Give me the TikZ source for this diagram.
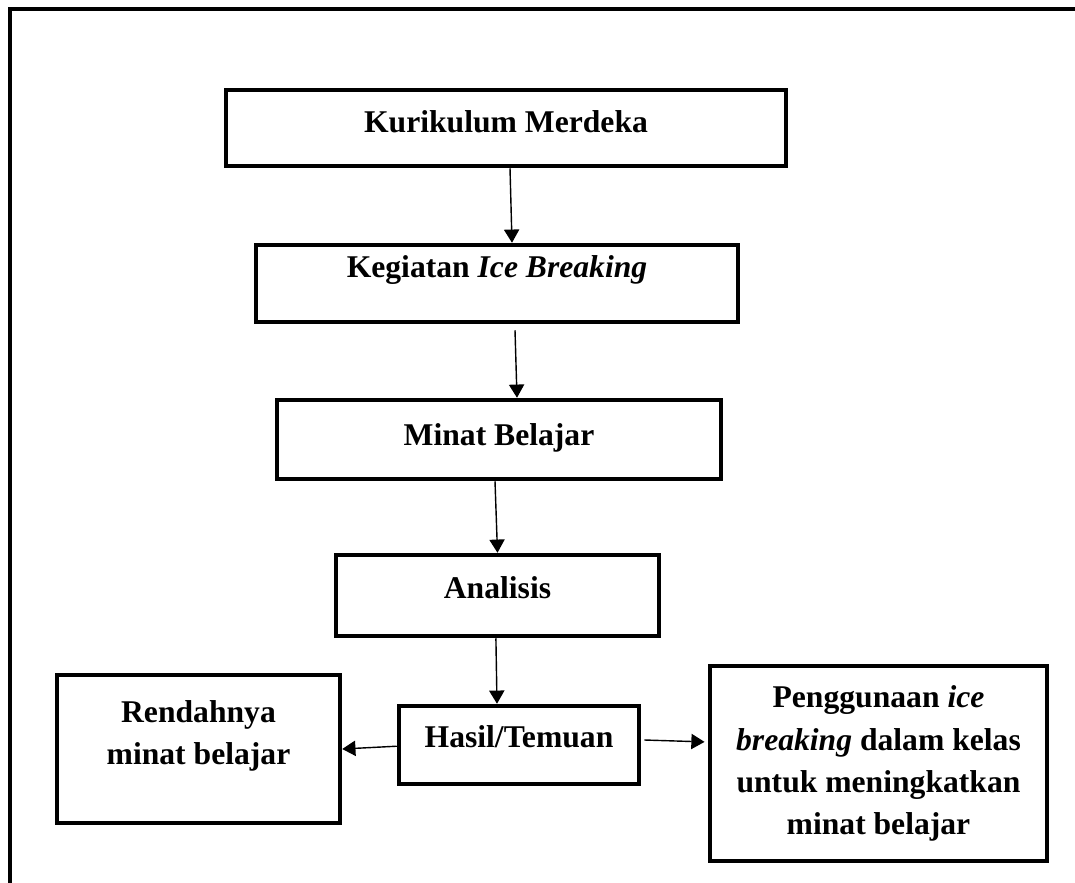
\documentclass[tikz,border=0pt]{standalone}
\usepackage{fontspec}
\setmainfont{Liberation Serif}
\usetikzlibrary{arrows.meta,positioning}

\begin{document}
\begin{tikzpicture}[
    box/.style={rectangle,draw,line width=3.2pt,align=center,inner sep=0pt},
    oneline/.style={text height=0.5cm,text depth=#1},
    link/.style={->,line width=1pt},
    >={Triangle[length=0.33cm,width=0.38cm]},
    font=\fontsize{22.5}{30}\selectfont\bfseries
    ]

    \clip (0,0) rectangle (26.875,-22.05);

    % frame:
    \draw[line width=3.5pt] (28,-0.225) -- (0.25,-0.225) -- (0.25,-23);

    % main flow:
    \node(kurikulum) at (12.65,-3.2) [box,oneline=0.3cm,minimum width=14cm,minimum height=1.9cm] {Kurikulum Merdeka};
    \node(kegiatan) at (12.425,-7.0875) [box,oneline=0.8cm,minimum width=12.05cm,minimum height=1.925cm] {Kegiatan \textit{Ice Breaking}};
    \node(minat) at (12.475,-10.9875) [box,oneline=0.2cm,minimum width=11.1cm,minimum height=1.975cm] {Minat Belajar};
    \node(analisis) at (12.4375,-14.8875) [box,oneline=0.375cm,minimum width=8.075cm,minimum height=2.025cm] {Analisis};
    \node(hasil) at (12.975,-18.625) [box,oneline=0.4cm,minimum width=6cm,minimum height=1.95cm] {Hasil/Temuan};

    % results:
    \node(rendah) at (4.9625,-18.725) [box,minimum width=7.075cm,minimum height=3.7cm] {Rendahnya\\minat belajar\\[-0.25cm]\mbox{}};
    \node(guna) at (21.9625,-19.0875) [box,minimum width=8.425cm,minimum height=4.875cm] {Penggunaan \textit{ice}\\\textit{breaking} dalam kelas\\untuk meningkatkan\\minat belajar};

    % connections
    \draw[link] ([xshift=0.1cm]kurikulum.south) -- ([xshift=0.375cm]kegiatan.north);
    \draw[link] ([xshift=0.45cm,yshift=-0.15cm]kegiatan.south) -- ([xshift=0.45cm]minat.north);
    \draw[link] ([xshift=-0.1cm]minat.south) -- (analisis.north);
    \draw[link] ([xshift=-0.04cm]analisis.south) -- ([xshift=-0.55cm]hasil.north);
    \draw[link] ([yshift=-0.03cm]hasil.west) -- (rendah.east);
    \draw[link] ([xshift=0.08cm,yshift=0.125cm]hasil.east) -- ([xshift=-0.08cm,yshift=0.54cm]guna.west);

  \end{tikzpicture}
\end{document}
